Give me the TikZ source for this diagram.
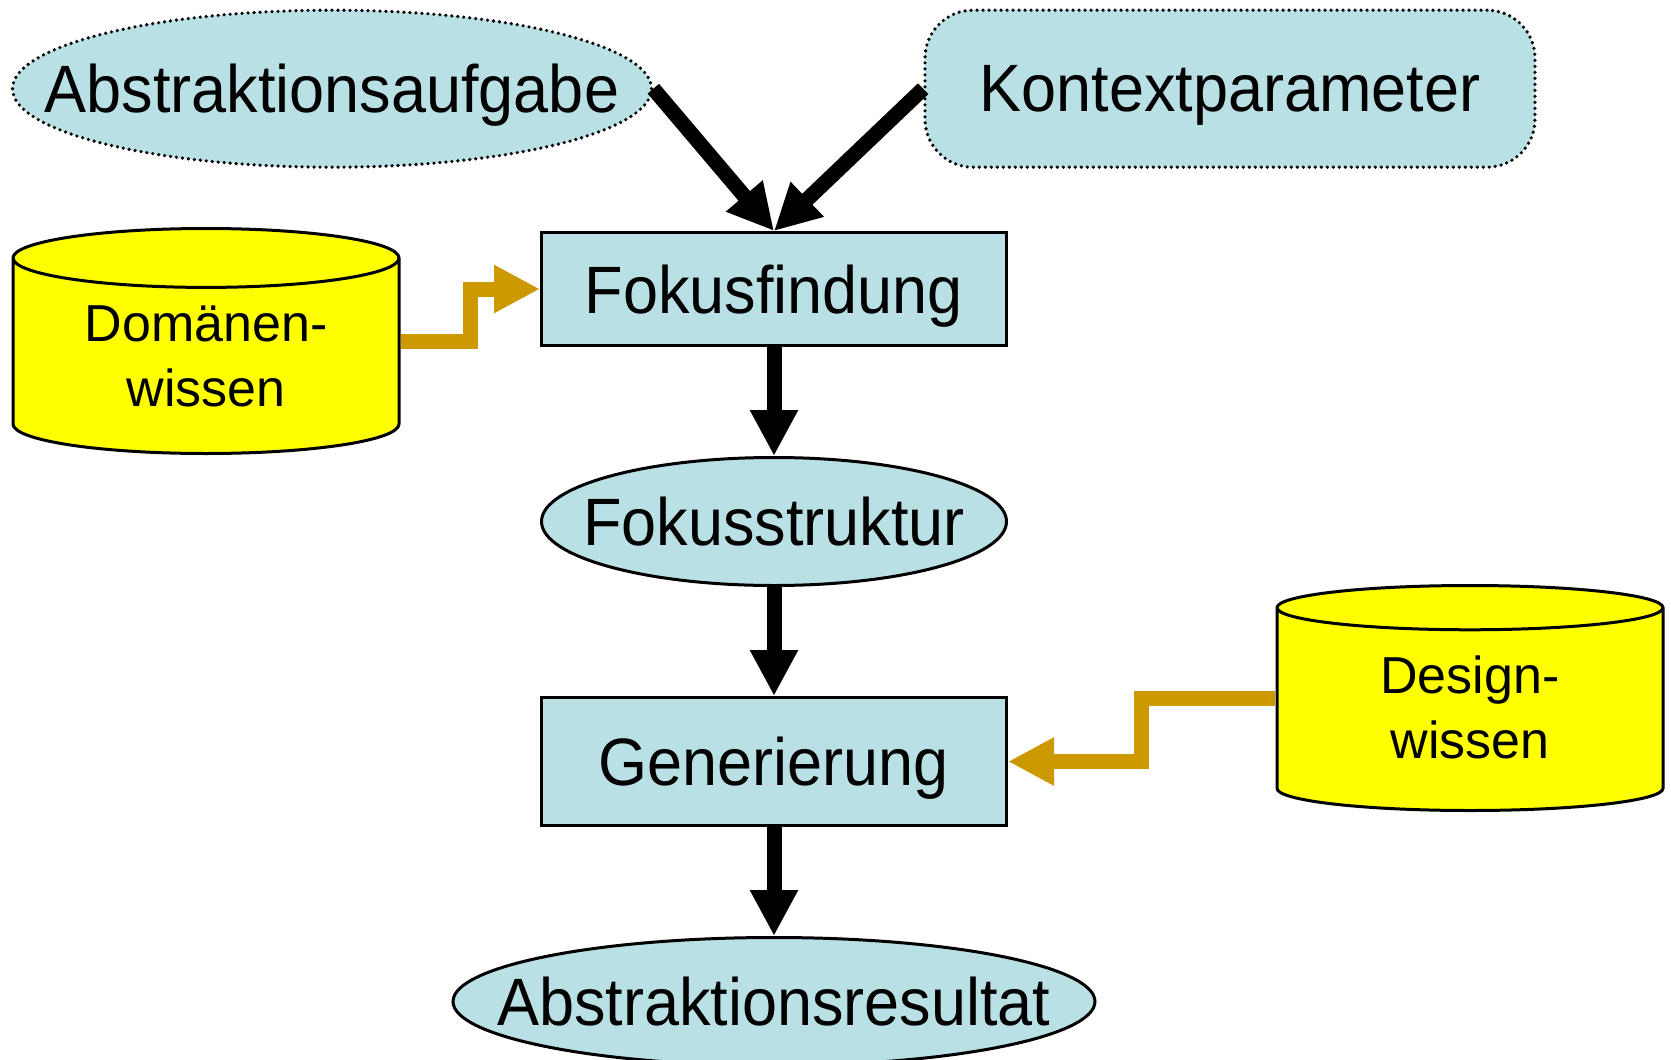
\documentclass[tikz,border=0pt]{standalone}
\usepackage{fontspec}
\setmainfont{Liberation Sans}[FakeStretch=0.94]
\newfontfamily\storefont{Liberation Sans}
\usetikzlibrary{arrows.meta, positioning, shapes.geometric, calc}
\definecolor{stageblue}{RGB}{185,224,228}
\definecolor{storeyellow}{RGB}{255,255,0}
\definecolor{feedgold}{RGB}{204,153,0}

\begin{document}
\begin{tikzpicture}[
    node distance=54.5pt,
    every node/.style={
        font=\fontsize{33.5pt}{40pt}\selectfont,
        align=center,
        line width=1.5pt,
        text depth=0pt,
        fill=stageblue
    },
    task/.style={draw=black, minimum width=232.5pt},
    result/.style={draw=black, ellipse, inner sep=0pt},
    input/.style={draw=black, line width=1.8pt, line cap=round, dash pattern=on 0pt off 3pt},
    store/.style={
        draw=black,
        fill=storeyellow,
        cylinder,
        shape border rotate=90,
        shape aspect=0.23,
        minimum width=193pt,
        minimum height=112.5pt,
        text height=46pt,
        anchor=shape center,
        font=\storefont\fontsize{26pt}{32.5pt}\selectfont
    },
    arrow/.style={-{Triangle[width=22.5pt, length=23pt]}, line width=7.5pt},
    feed/.style={arrow, color=feedgold}
]
\useasboundingbox (0,0) rectangle (835.5pt,-530pt);

\node[task, minimum height=56.5pt] (fokus) at (387pt,-144.5pt) {Fokusfindung};

\node[result, below=of fokus, minimum width=232.5pt, minimum height=64pt] (struktur) {\makebox[0pt]{Fokusstruktur}};

\node[task, below=of struktur, minimum height=64pt] (gen) {Generierung};

\node[result, below=of gen, minimum width=321pt, minimum height=64pt] (resultat) {\makebox[0pt]{Abstraktionsresultat}};

\node[input, ellipse, inner sep=0pt, above=31pt of fokus, xshift=-221pt,
      minimum width=319.5pt, minimum height=78.5pt] (aufgabe) {\makebox[0pt]{Abstraktionsaufgabe}};

\node[input, rounded corners=24pt, above=31pt of fokus, xshift=228pt,
      minimum width=305pt, minimum height=78.5pt] (kontext) {Kontextparameter};

\node[store] (domaene) at ($(fokus.west)+(-167pt,-26pt)$) {Domänen-\\wissen};

\node[store] (design) at ($(gen.east)+(231pt,31.75pt)$) {Design-\\wissen};

\draw[arrow] (aufgabe.east) -- (fokus.north);
\draw[arrow] (kontext.west) -- (fokus.north);
\draw[arrow] (fokus) -- (struktur);
\draw[arrow] (struktur) -- (gen);
\draw[arrow] (gen) -- (resultat);
\draw[feed] (domaene.shape center -| domaene.east) -| ($(domaene.shape center -| domaene.east)!.5!(fokus.west)$) |- (fokus.west);
\draw[feed] (design.shape center -| design.west) -| ($(design.shape center -| design.west)!.5!(gen.east)$) |- (gen.east);

\end{tikzpicture}
\end{document}
